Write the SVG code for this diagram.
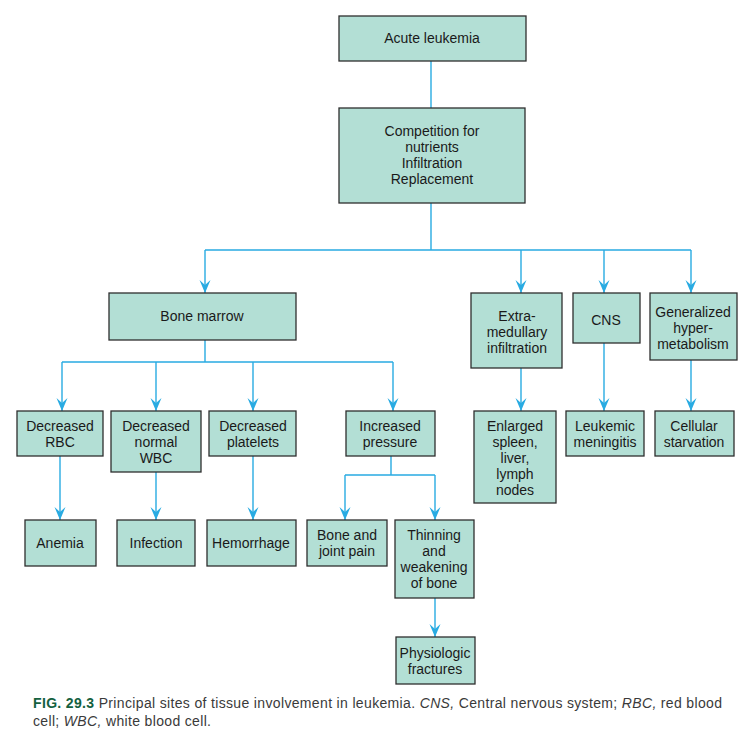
<svg xmlns="http://www.w3.org/2000/svg" width="756" height="739" viewBox="0 0 756 739">
<style>
.box{fill:#b3dfd5;stroke:#2e2e2e;stroke-width:1.3}
.t{font-family:"Liberation Sans",Arial,sans-serif;font-size:14px;fill:#1a1a1a;text-anchor:middle}
.c{fill:none;stroke:#29abe2;stroke-width:1.4}
.cap{font-family:"Liberation Sans",Arial,sans-serif;font-size:14px;fill:#3a3a3a}
</style>
<defs>
<marker id="ah" markerUnits="userSpaceOnUse" markerWidth="14" markerHeight="12" viewBox="-13 -6 14 12" refX="0" refY="0" orient="auto">
<path d="M0,0 L-13,-5.5 L-8,0 L-13,5.5 Z" fill="#29abe2"/>
</marker>
</defs>
<rect width="756" height="739" fill="#ffffff"/>
<g id="connectors">
<path class="c" d="M431,61 V108"/>
<path class="c" d="M431,203 V250 M205,250 H691"/>
<path class="c" d="M205,250 V293" marker-end="url(#ah)"/>
<path class="c" d="M521,250 V293" marker-end="url(#ah)"/>
<path class="c" d="M604,250 V293" marker-end="url(#ah)"/>
<path class="c" d="M691,250 V293" marker-end="url(#ah)"/>
<path class="c" d="M205,340 V362 M62,362 H393"/>
<path class="c" d="M62,362 V411" marker-end="url(#ah)"/>
<path class="c" d="M156,362 V411" marker-end="url(#ah)"/>
<path class="c" d="M253,362 V411" marker-end="url(#ah)"/>
<path class="c" d="M393,362 V411" marker-end="url(#ah)"/>
<path class="c" d="M391,456 V475 M345,475 H435"/>
<path class="c" d="M345,475 V520" marker-end="url(#ah)"/>
<path class="c" d="M435,475 V520" marker-end="url(#ah)"/>
<path class="c" d="M60,456 V520" marker-end="url(#ah)"/>
<path class="c" d="M156,472 V520" marker-end="url(#ah)"/>
<path class="c" d="M253,456 V520" marker-end="url(#ah)"/>
<path class="c" d="M435,598 V637" marker-end="url(#ah)"/>
<path class="c" d="M521,368 V411" marker-end="url(#ah)"/>
<path class="c" d="M604,343 V411" marker-end="url(#ah)"/>
<path class="c" d="M691,360 V411" marker-end="url(#ah)"/>
</g>
<g id="acute"><rect class="box" x="339" y="16" width="187" height="45"/><text class="t" x="432" y="43">Acute leukemia</text></g>
<g id="competition"><rect class="box" x="339" y="108" width="186" height="95"/>
<text class="t" x="432" y="136">Competition for</text><text class="t" x="432" y="152">nutrients</text><text class="t" x="432" y="168">Infiltration</text><text class="t" x="432" y="184">Replacement</text></g>
<g id="bonemarrow"><rect class="box" x="109" y="293" width="187" height="47"/><text class="t" x="202" y="321">Bone marrow</text></g>
<g id="extramedullary"><rect class="box" x="471" y="293" width="91" height="75"/>
<text class="t" x="517" y="321">Extra-</text><text class="t" x="517" y="337">medullary</text><text class="t" x="517" y="353">infiltration</text></g>
<g id="cns"><rect class="box" x="573" y="293" width="67" height="50"/><text class="t" x="606" y="325">CNS</text></g>
<g id="generalized"><rect class="box" x="650" y="293" width="87" height="67"/>
<text class="t" x="693" y="317">Generalized</text><text class="t" x="693" y="333">hyper-</text><text class="t" x="693" y="349">metabolism</text></g>
<g id="decrbc"><rect class="box" x="17" y="411" width="86" height="45"/>
<text class="t" x="60" y="431">Decreased</text><text class="t" x="60" y="447">RBC</text></g>
<g id="decwbc"><rect class="box" x="111" y="411" width="90" height="61"/>
<text class="t" x="156" y="431">Decreased</text><text class="t" x="156" y="447">normal</text><text class="t" x="156" y="463">WBC</text></g>
<g id="decplatelets"><rect class="box" x="209" y="411" width="87" height="45"/>
<text class="t" x="253" y="431">Decreased</text><text class="t" x="253" y="447">platelets</text></g>
<g id="incpressure"><rect class="box" x="346" y="411" width="89" height="45"/>
<text class="t" x="390" y="431">Increased</text><text class="t" x="390" y="447">pressure</text></g>
<g id="enlarged"><rect class="box" x="474" y="411" width="82" height="92"/>
<text class="t" x="515" y="431">Enlarged</text><text class="t" x="515" y="447">spleen,</text><text class="t" x="515" y="463">liver,</text><text class="t" x="515" y="479">lymph</text><text class="t" x="515" y="495">nodes</text></g>
<g id="meningitis"><rect class="box" x="566" y="411" width="78" height="45"/>
<text class="t" x="605" y="431">Leukemic</text><text class="t" x="605" y="447">meningitis</text></g>
<g id="starvation"><rect class="box" x="655" y="411" width="79" height="45"/>
<text class="t" x="694" y="431">Cellular</text><text class="t" x="694" y="447">starvation</text></g>
<g id="anemia"><rect class="box" x="25" y="520" width="71" height="46"/><text class="t" x="60" y="548">Anemia</text></g>
<g id="infection"><rect class="box" x="117" y="520" width="78" height="46"/><text class="t" x="156" y="548">Infection</text></g>
<g id="hemorrhage"><rect class="box" x="207" y="520" width="89" height="46"/><text class="t" x="251" y="548">Hemorrhage</text></g>
<g id="bonepain"><rect class="box" x="307" y="520" width="80" height="46"/>
<text class="t" x="347" y="540">Bone and</text><text class="t" x="347" y="556">joint pain</text></g>
<g id="thinning"><rect class="box" x="395" y="520" width="79" height="78"/>
<text class="t" x="434" y="540">Thinning</text><text class="t" x="434" y="556">and</text><text class="t" x="434" y="572">weakening</text><text class="t" x="434" y="588">of bone</text></g>
<g id="fractures"><rect class="box" x="396" y="637" width="79" height="47"/>
<text class="t" x="435" y="658">Physiologic</text><text class="t" x="435" y="674">fractures</text></g>
<g id="caption">
<text class="cap" x="33" y="708" textLength="689" lengthAdjust="spacing"><tspan font-weight="bold" fill="#14613f">FIG. 29.3</tspan> Principal sites of tissue involvement in leukemia. <tspan font-style="italic">CNS,</tspan> Central nervous system; <tspan font-style="italic">RBC,</tspan> red blood</text>
<text class="cap" x="33" y="726" textLength="178" lengthAdjust="spacing">cell; <tspan font-style="italic">WBC,</tspan> white blood cell.</text>
</g>
</svg>
